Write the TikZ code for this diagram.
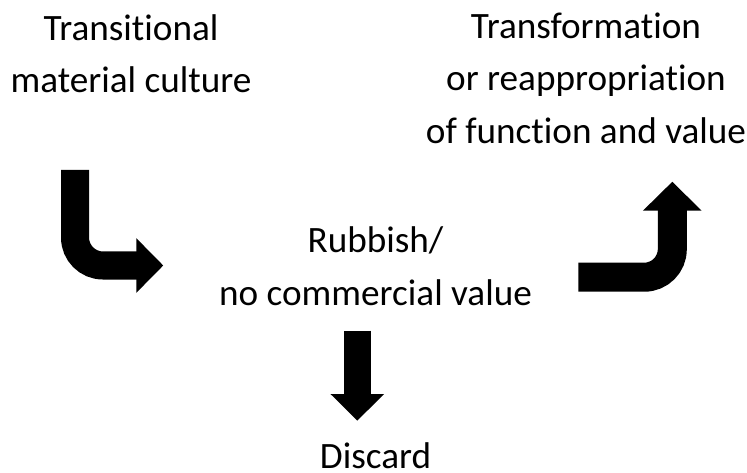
\documentclass[tikz,border=0pt]{standalone}
\usepackage{fontspec}
\setmainfont{Carlito}[Ligatures=NoCommon]
\usetikzlibrary{arrows.meta}

\begin{document}
\begin{tikzpicture}[
  x=1pt, y=-1pt,
  every node/.style={font=\fontsize{37.2}{52.5}\selectfont, inner sep=0pt},
  label/.style={align=center, anchor=base},
  bigarrow/.style n args={3}{line width=#1, rounded corners=28pt,
    -{Triangle[length=#2, width=#3]}}]
\useasboundingbox (0,0) rectangle (747,473);

%% Text blocks (anchored at the last line's baseline)
\node[label] (transit)   at (131,92.7)   {Transitional\\material culture};
\node[label] (transform) at (586,143.3)  {Transformation\\or reappropriation\\of function and value};
\node[label] (rubbish)   at (375.5,305)  {Rubbish/\\no commercial value};
\node[label] (discard)   at (375.5,468)  {Discard};

%% Arrow ends
\coordinate (inTop)    at (75,170);
\coordinate (inTip)    at (163.3,265.5);
\coordinate (outStart) at (578.3,277.2);
\coordinate (outTip)   at (672.3,181.7);
\coordinate (dropTop)  at (357.3,330.7);
\coordinate (dropTip)  at (357.3,420.7);

%% Arrows
\draw[bigarrow={28pt}{27pt}{53pt}] (inTop) |- (inTip);
\draw[bigarrow={29pt}{29pt}{57pt}] (outStart) -| (outTip);
\draw[bigarrow={26.7pt}{26.7pt}{52pt}] (dropTop) -- (dropTip);
\end{tikzpicture}
\end{document}
